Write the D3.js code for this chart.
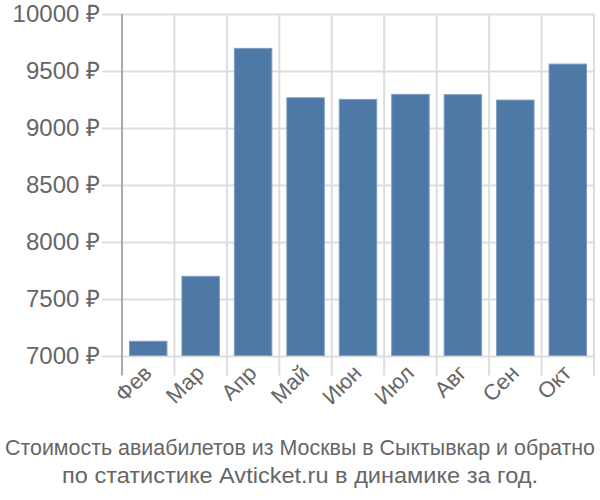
<!DOCTYPE html>
<html><head><meta charset="utf-8">
<script src="https://cdn.jsdelivr.net/npm/d3@7"></script>
<style>body{margin:0;background:#fff}svg{display:block}</style>
</head><body>
<svg id="c" width="600" height="500"></svg>
<script>
const categories = ["Фев","Мар","Апр","Май","Июн","Июл","Авг","Сен","Окт"];
const values = [7125, 7695, 9698, 9264, 9250, 9294, 9291, 9244, 9560];
const yTicks = [7000, 7500, 8000, 8500, 9000, 9500, 10000];
const titleLines = ["Стоимость авиабилетов из Москвы в Сыктывкар и обратно","по статистике Avticket.ru в динамике за год."];

(function(){
const svg = d3.select("#c");
const mL = 122, mR = 594, mT = 14, mB = 355.5;
const x = d3.scaleBand().domain(categories).range([mL, mR]).padding(0);
const y = d3.scaleLinear().domain([7000, 10000]).range([mB, mT]);
const font = "'Liberation Sans', Arial, sans-serif";

svg.append("g").selectAll("line").data(yTicks).join("line")
  .attr("x1", mL - 20).attr("x2", mR)
  .attr("y1", d => Math.round(y(d)) + 0.5).attr("y2", d => Math.round(y(d)) + 0.5)
  .attr("stroke", "#dddddd").attr("stroke-width", 2);

const bounds = categories.map(c => x(c)).concat([x(categories[categories.length-1]) + x.bandwidth()]);
svg.append("g").selectAll("line").data(bounds.slice(1)).join("line")
  .attr("x1", d => d).attr("x2", d => d)
  .attr("y1", mT).attr("y2", mB + 20)
  .attr("stroke", "#dddddd").attr("stroke-width", 2);

svg.append("line").attr("x1", mL).attr("x2", mL).attr("y1", mT).attr("y2", mB + 20)
  .attr("stroke", "#aaaaaa").attr("stroke-width", 2);

const bw = x.bandwidth();
svg.append("g").selectAll("rect").data(values).join("rect")
  .attr("x", (d, i) => x(categories[i]) + bw * 0.143)
  .attr("width", bw * 0.714)
  .attr("y", d => y(d))
  .attr("height", d => y(7000) - y(d))
  .attr("fill", "#4e78a6")
  .attr("stroke", "#7d9cc0").attr("stroke-width", 1);

svg.append("g").selectAll("text").data(yTicks).join("text")
  .attr("x", 100).attr("y", d => y(d)).attr("dy", "0.35em")
  .attr("text-anchor", "end").attr("font-family", font).attr("font-size", 24)
  .attr("fill", "#666666").text(d => d + " ₽");

svg.append("g").selectAll("text").data(categories).join("text")
  .attr("transform", d => `translate(${x(d) + bw/2 - 6},${mB + 8}) rotate(-45)`)
  .attr("text-anchor", "end").attr("dy", "0.7em")
  .attr("font-family", font).attr("font-size", 22)
  .attr("fill", "#666666").text(d => d);

svg.append("g").selectAll("text").data(titleLines).join("text")
  .attr("x", 300).attr("y", (d, i) => 455 + i * 28)
  .attr("text-anchor", "middle").attr("font-family", font).attr("font-size", 21.5)
  .attr("fill", "#666666")
  .attr("textLength", (d, i) => i === 0 ? 590 : 476)
  .attr("lengthAdjust", "spacingAndGlyphs")
  .text(d => d);
})();
</script>
</body></html>
